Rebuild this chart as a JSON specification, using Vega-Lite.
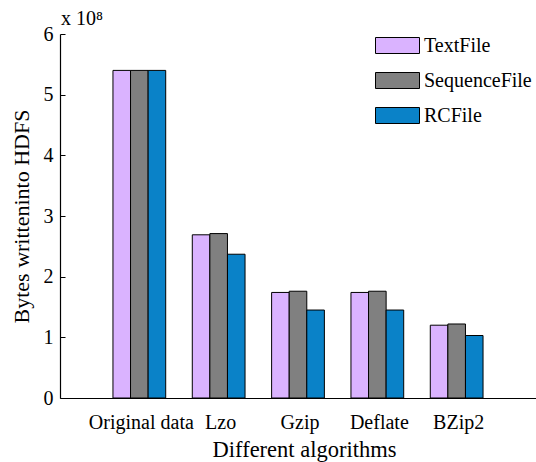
{
  "$schema": "https://vega.github.io/schema/vega-lite/v6.json",
  "autosize": "none",
  "padding": {"left": 60, "top": 34, "right": 0, "bottom": 64},
  "width": 476,
  "height": 364,
  "background": "white",
  "title": {
    "text": "x 10⁸",
    "anchor": "start",
    "frame": "group",
    "orient": "top",
    "offset": 5,
    "dx": 1,
    "dy": 10,
    "font": "Liberation Serif, Times New Roman, serif",
    "fontSize": 20,
    "fontWeight": "normal",
    "color": "black"
  },
  "data": {
    "values": [
      {"algorithm": "Original data", "format": "TextFile", "bytes": 540000000},
      {"algorithm": "Original data", "format": "SequenceFile", "bytes": 540000000},
      {"algorithm": "Original data", "format": "RCFile", "bytes": 540000000},
      {"algorithm": "Lzo", "format": "TextFile", "bytes": 269000000},
      {"algorithm": "Lzo", "format": "SequenceFile", "bytes": 271000000},
      {"algorithm": "Lzo", "format": "RCFile", "bytes": 237000000},
      {"algorithm": "Gzip", "format": "TextFile", "bytes": 174000000},
      {"algorithm": "Gzip", "format": "SequenceFile", "bytes": 176000000},
      {"algorithm": "Gzip", "format": "RCFile", "bytes": 145000000},
      {"algorithm": "Deflate", "format": "TextFile", "bytes": 174000000},
      {"algorithm": "Deflate", "format": "SequenceFile", "bytes": 176000000},
      {"algorithm": "Deflate", "format": "RCFile", "bytes": 145000000},
      {"algorithm": "BZip2", "format": "TextFile", "bytes": 120000000},
      {"algorithm": "BZip2", "format": "SequenceFile", "bytes": 122000000},
      {"algorithm": "BZip2", "format": "RCFile", "bytes": 103000000}
    ]
  },
  "mark": {"type": "bar", "stroke": "black", "strokeWidth": 1},
  "encoding": {
    "x": {
      "field": "algorithm",
      "type": "nominal",
      "sort": ["Original data", "Lzo", "Gzip", "Deflate", "BZip2"],
      "scale": {"paddingInner": 0.335, "paddingOuter": 0.6675},
      "axis": {
        "title": "Different algorithms",
        "labelAngle": 0,
        "ticks": false,
        "labelPadding": 14,
        "labelOffset": 2,
        "titlePadding": 6,
        "titleFontSize": 22.5,
        "titleX": 244
      }
    },
    "xOffset": {
      "field": "format",
      "type": "nominal",
      "sort": ["TextFile", "SequenceFile", "RCFile"],
      "scale": {"paddingInner": 0, "paddingOuter": 0}
    },
    "y": {
      "field": "bytes",
      "type": "quantitative",
      "scale": {"domain": [0, 600000000], "nice": false},
      "axis": {
        "title": "Bytes writteninto HDFS",
        "values": [0, 100000000, 200000000, 300000000, 400000000, 500000000, 600000000],
        "labelExpr": "format(datum.value / 100000000, 'd')",
        "tickSize": -5,
        "labelPadding": 12,
        "titlePadding": 10,
        "titleFontSize": 22
      }
    },
    "fill": {
      "field": "format",
      "type": "nominal",
      "sort": ["TextFile", "SequenceFile", "RCFile"],
      "scale": {"domain": ["TextFile", "SequenceFile", "RCFile"], "range": ["#DAB3FF", "#808080", "#0A82C8"]},
      "legend": {
        "title": null,
        "orient": "none",
        "legendX": 321,
        "legendY": -5,
        "symbolType": "M-1.375,-0.5H1.375V0.5H-1.375Z",
        "symbolSize": 1024,
        "symbolStrokeColor": "black",
        "symbolStrokeWidth": 1,
        "symbolOpacity": 1,
        "labelFont": "Liberation Serif, Times New Roman, serif",
        "labelFontSize": 20,
        "labelColor": "black",
        "rowPadding": 8,
        "labelOffset": 10
      }
    }
  },
  "config": {
    "font": "Liberation Serif, Times New Roman, serif",
    "view": {"stroke": null},
    "axis": {
      "grid": false,
      "domainColor": "black",
      "domainWidth": 1.2,
      "tickColor": "black",
      "labelFont": "Liberation Serif, Times New Roman, serif",
      "labelFontSize": 20,
      "labelColor": "black",
      "titleFont": "Liberation Serif, Times New Roman, serif",
      "titleFontSize": 21,
      "titleFontWeight": "normal",
      "titleColor": "black"
    }
  }
}
